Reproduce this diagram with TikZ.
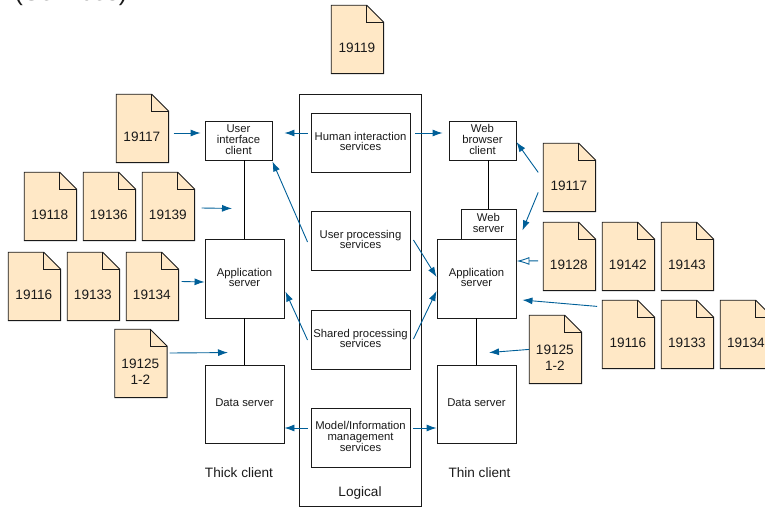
\documentclass[tikz,border=0pt]{standalone}
\usepackage{fontspec}
\setmainfont{Liberation Sans}
\usetikzlibrary{arrows.meta,calc}
\definecolor{docfill}{HTML}{FFE8C6}
\definecolor{flowblue}{HTML}{005F98}
\definecolor{inkc}{HTML}{1A1A1A}
\tikzset{
  box/.style={draw=inkc,line width=0.9pt,fill=white,inner sep=0pt,align=center,text=inkc,
    font=\fontsize{11.3}{10.7}\selectfont},
  boxtext/.style={inner sep=0pt,align=center,text=inkc,font=\fontsize{11.3}{10.7}\selectfont},
  docbox/.style={fill=docfill,inner sep=0pt,minimum width=52pt,minimum height=68pt},
  doclabel/.style={yshift=-8.5pt,xshift=-0.5pt,align=center,inner sep=0pt,text=inkc,font=\fontsize{13.6}{16}\selectfont},
  docline/.style={draw=inkc,line width=0.9pt,line join=miter},
  caption/.style={inner sep=0pt,text=inkc,font=\fontsize{13.6}{16}\selectfont},
  link/.style={draw=black,line width=0.9pt},
  flow/.style={draw=flowblue,line width=0.9pt,-{Latex[length=10pt,width=7pt]}},
  hollowflow/.style={draw=flowblue,line width=0.9pt,-{Latex[open,fill=white,length=13pt,width=8pt]}},
}
% name, left, top, text
\newcommand{\docnode}[4]{%
  \node[docbox,label={[doclabel]center:{#4}}] (#1) at (#2+26.4,#3+34.4) {};
  \fill[white] ($(#1.north east)+(-17.5,-0.5)$) -- ($(#1.north east)+(0.5,-0.5)$) -- ($(#1.north east)+(0.5,17)$) -- cycle;
  \draw[docline] (#1.north west) -- ($(#1.north east)+(-17,0)$) -- ($(#1.north east)+(0,17)$) -- (#1.south east) -- (#1.south west) -- cycle;
  \draw[docline] ($(#1.north east)+(-17,0)$) -- ($(#1.north east)+(-17,17)$) -- ($(#1.north east)+(0,17)$);
}
% name, left, top, right, bottom, text
\newcommand{\boxnode}[6]{%
  \node[box,minimum width=#4-#2,minimum height=#5-#3,label={[boxtext,yshift=1pt]center:{#6}}] (#1) at ({(#2+#4)/2},{(#3+#5)/2}) {};
}
\begin{document}
\begin{tikzpicture}[x=1pt,y=-1pt]
\useasboundingbox (0,0) rectangle (765,507);
\node[anchor=base,inner sep=0pt,text=inkc,font=\fontsize{25}{27}\selectfont] (heading) at (71,0) {(Services)};

\boxnode{logical}{299.5}{94}{421.5}{506}{}
\boxnode{hi}{311}{113}{410}{172}{Human interaction\\services}
\boxnode{up}{311}{211}{410}{270}{User processing\\services}
\boxnode{sh}{311}{310}{410}{369}{Shared processing\\services}
\boxnode{mo}{311}{408}{410}{467}{Model/Information\\management\\services}
\node[caption] (logicaltext) at (360,492.5) {Logical};
\node[caption] (thick) at (239,472.5) {Thick client};
\node[caption] (thin) at (479.5,472.5) {Thin client};

\boxnode{ui}{205}{121}{272}{160}{User\\interface\\client}
\boxnode{appL}{205}{239}{284}{318}{Application\\server}
\boxnode{dataL}{205}{365}{284}{443}{Data server}
\boxnode{wb}{449}{121}{516}{160}{Web\\browser\\client}
\boxnode{ws}{461}{209}{516}{239}{Web\\server}
\boxnode{appR}{437}{239}{516}{318}{Application\\server}
\boxnode{dataR}{437}{365}{516}{443}{Data server}

\draw[link] (appL.north) -- (appL.north |- ui.south);
\draw[link] (appL.south) -- (dataL.north);
\draw[link] (wb.south -| ws.north) -- (ws.north);
\draw[link] (appR.south) -- (dataR.north);

\docnode{dTop}{331}{5}{19119}
\docnode{dUiL}{116}{94}{19117}
\docnode{dA}{24}{172}{19118}
\docnode{dB}{83}{172}{19136}
\docnode{dC}{142}{172}{19139}
\docnode{dD}{8}{252}{19116}
\docnode{dE}{67}{252}{19133}
\docnode{dF}{126}{252}{19134}
\docnode{dG}{114.5}{329}{19125\\1-2}
\docnode{dWeb}{543}{143}{19117}
\docnode{dH}{543}{222}{19128}
\docnode{dI}{602}{222}{19142}
\docnode{dJ}{661}{222}{19143}
\docnode{dK}{602}{300}{19116}
\docnode{dL}{661}{300}{19133}
\docnode{dM}{720}{300}{19134}
\docnode{dN}{529}{315}{19125\\1-2}

\draw[flow] ($(dUiL.east)+(5,4.6)$) -- ($(ui.west)+(-4,-7.5)$);
\draw[flow] ($(dC.east)+(7,1.6)$) -- ($(ui.south)+(-6.5,48)$);
\draw[flow] ($(dF.east)+(3,-4.9)$) -- ($(appL.west)+(0,3.5)$);
\draw[flow] ($(dG.east)+(2.5,-10.4)$) -- ($(dataL.north)+(-16.5,-12)$);
\draw[flow] ($(hi.west)+(-3,-9.5)$) -- ($(ui.east)+(12,-7.5)$);
\draw[flow] ($(hi.east)+(5,-9.5)$) -- ($(wb.west)+(-6,-7.5)$);
\draw[flow] ($(up.west)+(-3,1.5)$) -- ($(ui.south east)+(0,1)$);
\draw[flow] ($(up.east)+(3,-0.5)$) -- ($(appR.west)+(0,-1.5)$);
\draw[flow] ($(sh.west)+(-3,0.5)$) -- ($(appL.east)+(1,13)$);
\draw[flow] ($(sh.east)+(3,-0.5)$) -- ($(appR.west)+(0,12.5)$);
\draw[flow] ($(mo.west)+(-3,-9.5)$) -- ($(dataL.east)+(0,24)$);
\draw[flow] ($(mo.east)+(3,-9.5)$) -- ($(dataR.west)+(0,24)$);
\draw[flow] ($(dWeb.west)+(-5,-5)$) -- ($(wb.east)+(0,1.5)$);
\draw[flow] ($(dWeb.west)+(-5,15)$) -- ($(ws.south east)+(6,-9)$);
\draw[hollowflow] ($(dH.west)+(-5,4.5)$) -- ($(appR.east)+(0,-17.5)$);
\draw[flow] ($(dK.west)+(-5,-28)$) -- ($(appR.east)+(6,21.5)$);
\draw[flow] (dN.west) -- ($(dataR.north)+(12.5,-12)$);
\end{tikzpicture}
\end{document}
